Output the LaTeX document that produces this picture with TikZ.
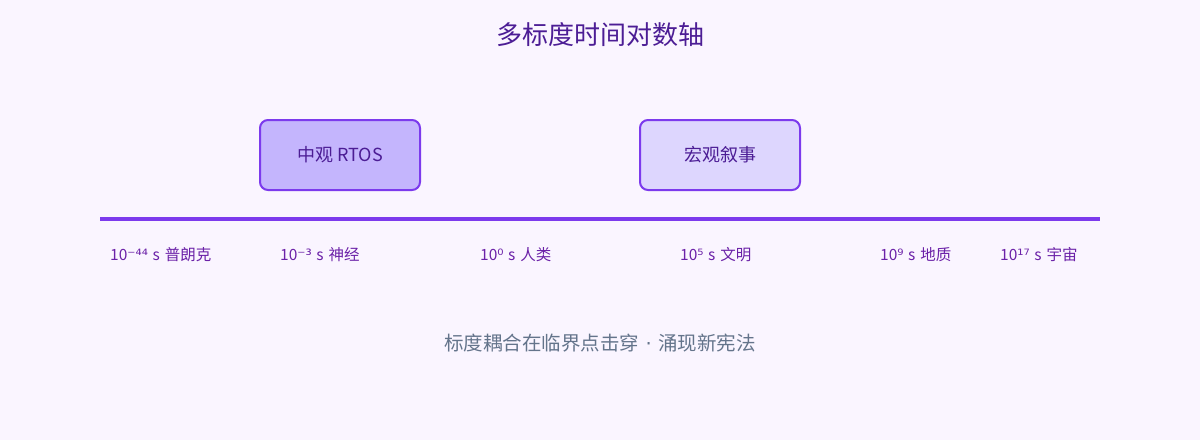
\documentclass[tikz,border=0pt]{standalone}
\usepackage{fontspec}
\setmainfont{Noto Sans CJK SC}
\newfontfamily\supfont{DejaVu Sans}
\definecolor{bg}{HTML}{FAF5FF}
\definecolor{axis}{HTML}{7C3AED}
\definecolor{titlec}{HTML}{4C1D95}
\definecolor{labc}{HTML}{6B21A8}
\definecolor{boxa}{HTML}{C4B5FD}
\definecolor{boxb}{HTML}{DDD6FE}
\definecolor{foot}{HTML}{64748B}
\newcommand{\spx}[1]{{\supfont #1}\hspace{4.5pt}s\hspace{5pt}}
\begin{document}
\begin{tikzpicture}[x=1pt,y=-1pt,
  scalebox/.style={draw=axis,line width=2pt,rounded corners=8pt,minimum width=160pt,minimum height=70pt,inner sep=0pt,text=titlec,font=\fontsize{18}{20}\selectfont},
  ticklab/.style={anchor=base west,text=labc,inner sep=0pt,font=\fontsize{15.5}{17}\selectfont}]
\fill[bg] (0,0) rectangle (1200,440);
\useasboundingbox (0,0) rectangle (1200,440);
\node[text=titlec,font=\fontsize{26}{30}\selectfont] (title) at (600,35) {多标度时间对数轴};
\node[scalebox,fill=boxa] (meso) at (340,155) {中观 RTOS};
\node[scalebox,fill=boxb] (macro) at (720,155) {宏观叙事};
\coordinate (axl) at (100,219);
\coordinate (axr) at (1100,219);
\draw[axis,line width=4pt] (axl) -- (axr);
\node[ticklab] (t1) at (110,260) {10\spx{⁻⁴⁴}普朗克};
\node[ticklab] (t2) at (280,260) {10\spx{⁻³}神经};
\node[ticklab] (t3) at (480,260) {10\spx{⁰}人类};
\node[ticklab] (t4) at (680,260) {10\spx{⁵}文明};
\node[ticklab] (t5) at (880,260) {10\spx{⁹}地质};
\node[ticklab] (t6) at (1000,260) {10\spx{¹⁷}宇宙};
\node[text=foot,font=\fontsize{19.5}{22}\selectfont] (footer) at (600,343) {标度耦合在临界点击穿{\supfont{} · }涌现新宪法};
\end{tikzpicture}
\end{document}
